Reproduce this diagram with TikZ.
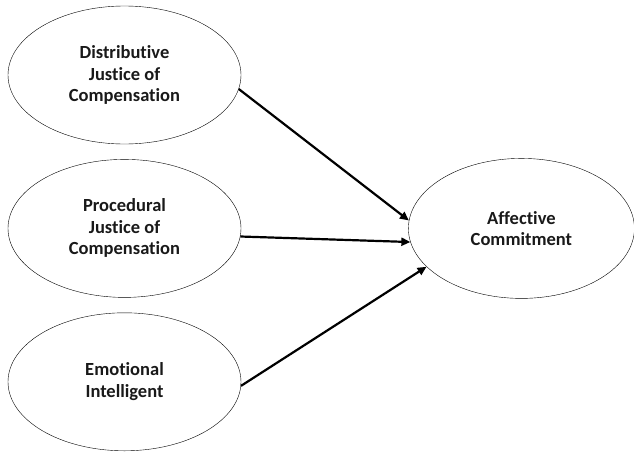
\documentclass[tikz,border=0pt]{standalone}
\usepackage{fontspec}
\setmainfont{Carlito}[Ligatures=NoCommon]
\usepackage{tikz}
\usetikzlibrary{arrows.meta, shapes.geometric, positioning}
\tikzset{
	node distance = 15pt,
	line width = 1.1pt,
	>={Triangle[length=9pt, width=8pt]},
	font = \fontsize{18.5}{21.5}\selectfont\bfseries,
	latent/.style={
		draw,
		ellipse,
		align=center,
		text=black!90,
		minimum width=233pt,
		minimum height=138pt,
		inner sep=0pt
	},
	link/.style={
		->,
		line width=2.2pt
	}
}

\begin{document}
\begin{tikzpicture}
		\useasboundingbox (0,0) rectangle (634pt,-455pt);

		\node[latent] at (124.5pt,-75pt) (dist) {Distributive\\Justice of\\Compensation};
		\node[latent, below=of dist] (proc) {Procedural\\Justice of\\Compensation};
		\node[latent, below=of proc] (emo) {Emotional\\Intelligent};
		\node[latent, right=167pt of proc, minimum width=226pt, minimum height=140pt] (aff) {Affective\\Commitment};

		\draw[link] (dist.-7) to (aff.176);
		\draw[link] (proc.-4) to (aff.187);
		\draw[link] (emo.-2.5) to (aff.202);
	\end{tikzpicture}
\end{document}
